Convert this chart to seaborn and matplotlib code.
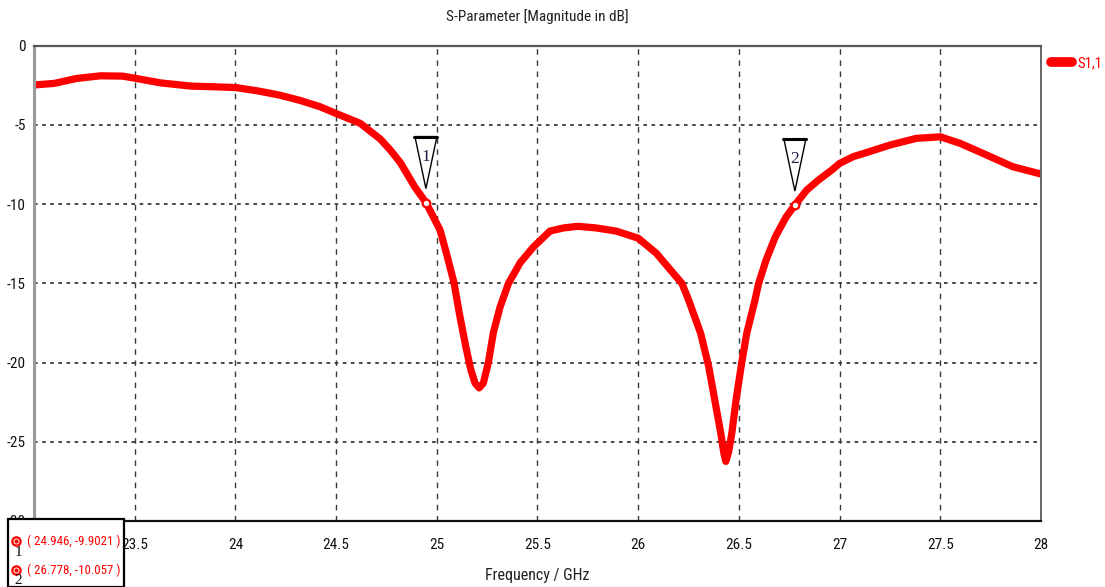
import matplotlib
matplotlib.use("Agg")
import matplotlib.pyplot as plt
import matplotlib.transforms as mtransforms
from matplotlib import font_manager as fm
from matplotlib.patches import Polygon, Rectangle
from matplotlib.ticker import FuncFormatter
import seaborn as sns
import pandas as pd

# ---------------- data ----------------
freq_ghz = [23.00, 23.10, 23.21, 23.33, 23.44, 23.50, 23.63, 23.78, 23.91, 24.00,
            24.11, 24.22, 24.32, 24.42, 24.50, 24.62, 24.72, 24.77, 24.82, 24.89,
            24.946, 25.016, 25.052, 25.086, 25.112, 25.144, 25.169, 25.19, 25.21,
            25.231, 25.256, 25.281, 25.314, 25.356, 25.414, 25.48, 25.562, 25.63,
            25.70, 25.79, 25.89, 26.00, 26.09, 26.17, 26.217, 26.25, 26.31, 26.35,
            26.38, 26.41, 26.425, 26.435, 26.448, 26.465, 26.486, 26.514, 26.539,
            26.58, 26.598, 26.635, 26.681, 26.735, 26.778, 26.837, 26.895, 26.961,
            27.00, 27.068, 27.12, 27.25, 27.38, 27.50, 27.60, 27.73, 27.86, 28.00]
s11_db = [-2.48, -2.38, -2.07, -1.90, -1.92, -2.05, -2.35, -2.55, -2.60, -2.64,
          -2.85, -3.12, -3.45, -3.85, -4.28, -4.90, -5.90, -6.60, -7.40, -8.90,
          -9.90, -11.63, -13.3, -15.0, -16.9, -19.0, -20.46, -21.3, -21.6,
          -21.3, -20.0, -18.1, -16.5, -15.0, -13.7, -12.7, -11.7, -11.5,
          -11.4, -11.5, -11.7, -12.15, -13.1, -14.3, -15.0, -16.04, -18.15, -20.25,
          -22.35, -24.45, -25.7, -26.24, -25.7, -24.45, -22.35, -20.0, -18.15,
          -16.05, -15.0, -13.53, -12.06, -10.8, -10.057, -9.11, -8.48, -7.85,
          -7.43, -7.0, -6.8, -6.27, -5.85, -5.75, -6.17, -6.9, -7.64, -8.10]
series_name = "S1,1"

marker_ids = ["1", "2"]
marker_freq = [24.946, 26.778]
marker_val = [-9.9021, -10.057]

# the 23 GHz tick label is hidden behind the marker box in the reference
x_ticks = [23.0, 23.5, 24.0, 24.5, 25.0, 25.5, 26.0, 26.5, 27.0, 27.5, 28.0]
x_tick_labels = ["", "23.5", "24", "24.5", "25", "25.5", "26", "26.5", "27",
                 "27.5", "28"]
y_ticks = [0, -5, -10, -15, -20, -25, -30]

title = "S-Parameter [Magnitude in dB]"
x_label = "Frequency / GHz"

# ---------------- font choice: prefer a narrow face ----------------
sns.set_style("white")
entries = fm.fontManager.ttflist
names = {f.name for f in entries}
font_family, font_stretch, narrow = "DejaVu Sans", "normal", False
for nm in ["Liberation Sans Narrow", "Roboto Condensed", "Open Sans Condensed",
           "Noto Sans Condensed", "DejaVu Sans Condensed", "Arial Narrow"]:
    if nm in names:
        font_family, narrow = nm, True
        break
if not narrow:
    for f in entries:
        st = f.stretch
        cond = (isinstance(st, str) and "condensed" in st) or \
               (isinstance(st, (int, float)) and st < 500)
        if cond and f.name in ("DejaVu Sans", "Noto Sans", "Open Sans", "Roboto",
                               "Liberation Sans"):
            font_family, font_stretch, narrow = f.name, st, True
            break
plt.rcParams["font.family"] = [font_family, "DejaVu Sans"]
plt.rcParams["font.stretch"] = font_stretch

k = 1.0 if narrow else 0.8   # size factor when no narrow face exists
fs_tick = 11 * k
fs_title = 11 * k
fs_xlabel = 11.5 * k
fs_leg = 10.5 * k
fs_box = 9.3 * k

W, H, DPI = 1105, 587, 100
fig = plt.figure(figsize=(W / DPI, H / DPI), dpi=DPI)
ax = fig.add_axes([34 / W, 1 - 521 / H, (1041 - 34) / W, (521 - 45.7) / H])

df = pd.DataFrame({"freq": freq_ghz, "s11": s11_db})
sns.lineplot(data=df, x="freq", y="s11", color="#ff0000", linewidth=5.2,
             ax=ax, label=series_name, sort=False, solid_capstyle="round",
             solid_joinstyle="round")

ax.set_xlim(23, 28)
ax.set_ylim(-30, 0)
ax.set_xticks(x_ticks)
ax.set_xticklabels(x_tick_labels)
ax.set_yticks(y_ticks)
ax.yaxis.set_major_formatter(FuncFormatter(lambda v, p: "%g" % v))

ax.xaxis.grid(True, linestyle=(0, (4, 4)), color="#3a3a3a", linewidth=1.0)
ax.yaxis.grid(True, linestyle=(0, (2, 2.5)), color="#3a3a3a", linewidth=1.3)
ax.set_axisbelow(True)

for side, col, lw in [("bottom", "#111111", 1.6), ("top", "#555555", 1.6),
                      ("left", "#9a9a9a", 2.2), ("right", "#666666", 1.4)]:
    ax.spines[side].set_visible(True)
    ax.spines[side].set_color(col)
    ax.spines[side].set_linewidth(lw)

ax.tick_params(axis="x", direction="out", length=5, width=1, color="#333333",
               labelsize=fs_tick, pad=7, labelcolor="#111111")
ax.tick_params(axis="y", direction="out", length=3, width=1, color="#333333",
               labelsize=fs_tick, pad=3, labelcolor="#111111")
ax.set_xlabel(x_label, fontsize=fs_xlabel, color="#222222", labelpad=12)
ax.set_ylabel("")
ax.set_title(title, fontsize=fs_title, color="#222222", pad=18)

leg = ax.legend(loc="upper left", bbox_to_anchor=(1.010, 0.978), frameon=False,
                handlelength=1.45, handletextpad=0.35, fontsize=fs_leg,
                labelcolor="#ff0000", borderaxespad=0, borderpad=0)
for h in leg.get_lines():
    h.set_linewidth(7)
    h.set_solid_capstyle("round")

# markers on the curve
ax.plot(marker_freq, marker_val, linestyle="none", marker="o", markersize=5.5,
        markerfacecolor="white", markeredgecolor="#ff0000", markeredgewidth=1.6,
        zorder=5)

# triangle flags above the markers (pixel offsets from each marker)
ident = mtransforms.IdentityTransform()
serif = ["Liberation Serif", "DejaVu Serif"]
for mid, fx, fy in zip(marker_ids, marker_freq, marker_val):
    px, py = ax.transData.transform((fx, fy))
    tri = Polygon([(px - 11, py + 66), (px + 11, py + 66), (px, py + 14)],
                  closed=True, facecolor="white", edgecolor="black",
                  linewidth=1.0, transform=ident, clip_on=False, zorder=6)
    fig.add_artist(tri)
    fig.add_artist(plt.Line2D([px - 11.5, px + 11.5], [py + 66, py + 66],
                              color="black", linewidth=2.2, transform=ident,
                              zorder=7))
    fig.text(px, py + 46, mid, transform=ident, ha="center", va="center",
             fontsize=12.5, color="#1a1a40", family=serif, zorder=8)

# marker value box (bottom-left)
box = Rectangle((8 / W, 0), 116 / W, (H - 519) / H, transform=fig.transFigure,
                facecolor="white", edgecolor="black", linewidth=1.6, zorder=10)
fig.add_artist(box)
row_y = [H - 541, H - 570]
for mid, fx, fy, ry in zip(marker_ids, marker_freq, marker_val, row_y):
    fig.add_artist(plt.Line2D([15.5 / W], [ry / H], transform=fig.transFigure,
                              marker="o", markersize=6, markerfacecolor="white",
                              markeredgecolor="#ff0000", markeredgewidth=1.6,
                              linestyle="none", zorder=11))
    fig.add_artist(plt.Line2D([15.5 / W], [ry / H], transform=fig.transFigure,
                              marker="o", markersize=2, markerfacecolor="#ff0000",
                              markeredgecolor="#ff0000", linestyle="none",
                              zorder=12))
    fig.text(18.5 / W, (ry - 11) / H, mid, fontsize=11, color="#111111",
             ha="center", va="center", family=serif, zorder=12)
    fig.text(27 / W, ry / H, "( %.3f, %s )" % (fx, ("%.5g" % fy)),
             fontsize=fs_box, color="#ff0000", ha="left", va="center", zorder=12)

fig.savefig("out.png", dpi=DPI)
